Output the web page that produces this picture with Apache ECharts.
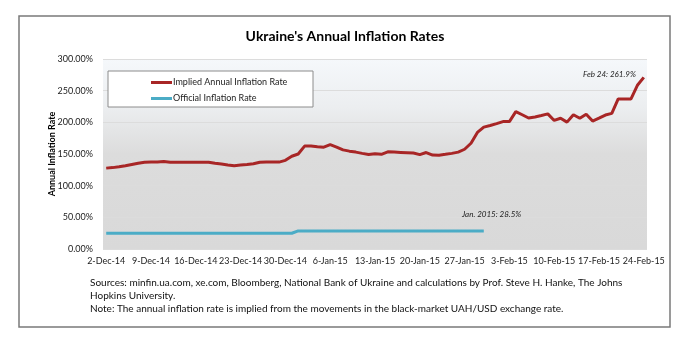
<!DOCTYPE html>
<html><head><meta charset="utf-8">
<script src="https://cdn.jsdelivr.net/npm/echarts@6/dist/echarts.min.js"></script>
<style>html,body{margin:0;padding:0;background:#fff}#c{width:690px;height:340px}</style>
</head><body><div id="c"></div>
<script>
const dates = [
 '2-Dec-14','3-Dec-14','4-Dec-14','5-Dec-14','6-Dec-14','7-Dec-14','8-Dec-14','9-Dec-14','10-Dec-14','11-Dec-14',
 '12-Dec-14','13-Dec-14','14-Dec-14','15-Dec-14','16-Dec-14','17-Dec-14','18-Dec-14','19-Dec-14','20-Dec-14','21-Dec-14',
 '22-Dec-14','23-Dec-14','24-Dec-14','25-Dec-14','26-Dec-14','27-Dec-14','28-Dec-14','29-Dec-14','30-Dec-14','31-Dec-14',
 '1-Jan-15','2-Jan-15','3-Jan-15','4-Jan-15','5-Jan-15','6-Jan-15','7-Jan-15','8-Jan-15','9-Jan-15','10-Jan-15',
 '11-Jan-15','12-Jan-15','13-Jan-15','14-Jan-15','15-Jan-15','16-Jan-15','17-Jan-15','18-Jan-15','19-Jan-15','20-Jan-15',
 '21-Jan-15','22-Jan-15','23-Jan-15','24-Jan-15','25-Jan-15','26-Jan-15','27-Jan-15','28-Jan-15','29-Jan-15','30-Jan-15',
 '31-Jan-15','1-Feb-15','2-Feb-15','3-Feb-15','4-Feb-15','5-Feb-15','6-Feb-15','7-Feb-15','8-Feb-15','9-Feb-15',
 '10-Feb-15','11-Feb-15','12-Feb-15','13-Feb-15','14-Feb-15','15-Feb-15','16-Feb-15','17-Feb-15','18-Feb-15','19-Feb-15',
 '20-Feb-15','21-Feb-15','22-Feb-15','23-Feb-15','24-Feb-15'
];
// Implied Annual Inflation Rate (%), daily
const implied = [
 127.7,128.5,129.8,131.5,133.5,135.5,137.0,137.2,137.3,138.1,
 136.8,137.0,137.0,137.0,137.0,137.0,137.0,135.5,134.3,132.8,
 131.5,132.6,133.5,134.5,137.0,137.2,137.2,137.2,140.0,146.5,
 150.0,162.5,162.5,161.5,160.8,164.8,161.0,156.5,154.5,153.0,
 151.0,149.2,150.5,149.5,153.4,153.0,152.5,152.0,151.5,149.0,
 152.3,148.3,148.2,149.5,151.0,153.0,157.5,167.0,184.0,192.5,
 195.0,198.0,201.2,201.2,216.9,212.0,206.8,208.5,210.8,213.3,
 203.0,206.5,200.3,212.0,206.5,212.8,202.0,206.5,211.5,214.2,
 237.0,237.0,237.0,258.5,271.0
];
// Official Inflation Rate (%), through 30-Jan-15
const official = [
 24.9,24.9,24.9,24.9,24.9,24.9,24.9,24.9,24.9,24.9,
 24.9,24.9,24.9,24.9,24.9,24.9,24.9,24.9,24.9,24.9,
 24.9,24.9,24.9,24.9,24.9,24.9,24.9,24.9,24.9,24.9,
 28.5,28.5,28.5,28.5,28.5,28.5,28.5,28.5,28.5,28.5,
 28.5,28.5,28.5,28.5,28.5,28.5,28.5,28.5,28.5,28.5,
 28.5,28.5,28.5,28.5,28.5,28.5,28.5,28.5,28.5,28.5
];
const seriesNames = ['Implied Annual Inflation Rate','Official Inflation Rate'];
const yTicks = [0,50,100,150,200,250,300];
const titleText = "Ukraine's Annual Inflation Rates";
const sourceLines = [
 'Sources: minfin.ua.com, xe.com, Bloomberg, National Bank of Ukraine and calculations by Prof. Steve H. Hanke, The Johns',
 'Hopkins University.',
 'Note: The annual inflation rate is implied from the movements in the black-market UAH/USD exchange rate.'
];
const noteImplied = 'Feb 24: 261.9%';
const noteOfficial = 'Jan. 2015: 28.5%';

const F = 'Lato,"Open Sans",sans-serif';
const RED = '#A82626', BLUE = '#4BACC6';
const chart = echarts.init(document.getElementById('c'));
chart.setOption({
  animation:false,
  backgroundColor:'#fff',
  title:{text:titleText,left:'center',top:24,textStyle:{fontFamily:F,fontSize:14,fontWeight:'bold',color:'#000'}},
  grid:{left:103,right:43,top:59,bottom:91,show:true,borderWidth:0,
    backgroundColor:new echarts.graphic.LinearGradient(0,0,0,1,[
      {offset:0,color:'#f5f8fb'},{offset:0.25,color:'#eceef0'},{offset:0.5,color:'#dcdcdc'},{offset:1,color:'#d9d9d9'}])},
  legend:{orient:'vertical',left:146,top:73,itemWidth:21,itemHeight:3,itemGap:7,z:20,icon:'rect',
    data:seriesNames,textStyle:{fontFamily:F,fontSize:9,color:'#222',padding:[0,0,0,-4]}},
  xAxis:{type:'category',data:dates,boundaryGap:true,
    axisLine:{show:false},axisTick:{show:false},
    axisLabel:{interval:6,margin:8,showMaxLabel:true,hideOverlap:false,fontFamily:F,fontSize:9,color:'#222'}},
  yAxis:{type:'value',min:yTicks[0],max:yTicks[yTicks.length-1],interval:50,
    name:'Annual Inflation Rate',nameLocation:'middle',nameGap:46,nameRotate:90,nameMoveOverlap:false,
    nameTextStyle:{fontFamily:F,fontSize:9,fontWeight:'bold',color:'#000'},
    axisLine:{show:false},axisTick:{show:false},
    splitLine:{lineStyle:{color:'#dcdcdc',width:1}},
    axisLabel:{formatter:v=>v.toFixed(2)+'%',fontFamily:F,fontSize:9,color:'#222',margin:10}},
  series:[
    {name:seriesNames[0],type:'line',data:implied,symbol:'none',lineStyle:{color:RED,width:3},itemStyle:{color:RED},z:3},
    {name:seriesNames[1],type:'line',data:official,symbol:'none',lineStyle:{color:BLUE,width:3},itemStyle:{color:BLUE},z:3}
  ],
  graphic:[
    {type:'rect',z:10,shape:{x:108,y:71,width:205,height:36},style:{fill:'#fff',stroke:'#8c8c8c',lineWidth:1}},
    {type:'rect',z:1,shape:{x:19,y:16,width:651,height:311},style:{fill:'none',stroke:'#7a7a7a',lineWidth:1.5}},
    {type:'text',z:10,left:583,top:70,style:{text:noteImplied,fontFamily:F,fontSize:8,fontStyle:'italic',fill:'#222'}},
    {type:'text',z:10,left:462,top:210,style:{text:noteOfficial,fontFamily:F,fontSize:8,fontStyle:'italic',fill:'#222'}},
    {type:'text',z:10,left:90,top:276,style:{text:sourceLines.join('\n'),fontFamily:F,fontSize:10,lineHeight:13,fill:'#111'}}
  ]
});
</script></body></html>
